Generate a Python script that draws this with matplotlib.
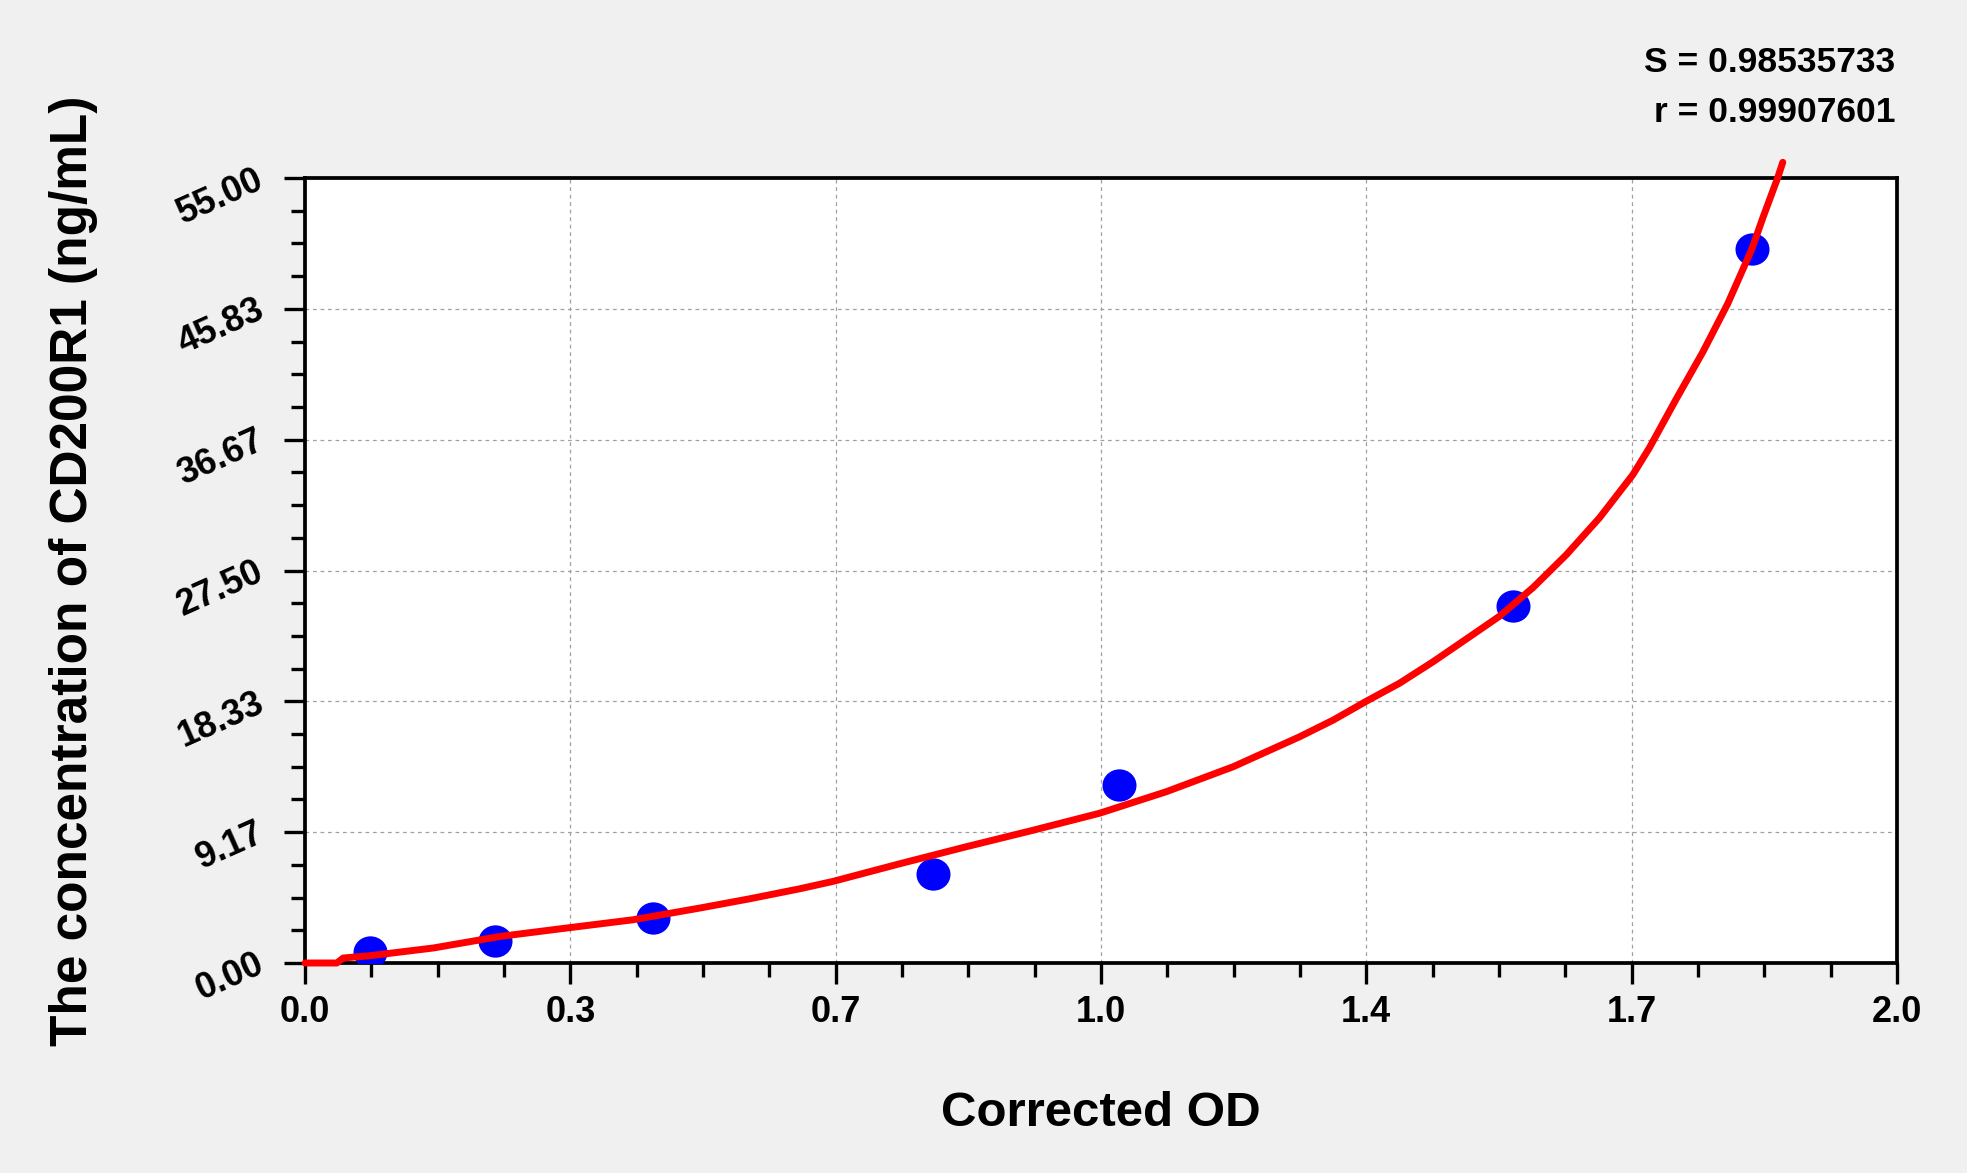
import matplotlib
matplotlib.use("Agg")
import matplotlib.pyplot as plt
from matplotlib.ticker import FixedLocator, AutoMinorLocator
from matplotlib.path import Path

# ---- data ----
od_values = [0.0815, 0.2385, 0.437, 0.789, 1.023, 1.517, 1.8175]
conc_values = [0.78, 1.56, 3.12, 6.25, 12.5, 25.0, 50.0]

curve_x = [0.0, 0.04, 0.048, 0.0816, 0.161, 0.245, 0.3286, 0.4123, 0.496, 0.5588,
           0.6216, 0.6635, 0.747, 0.831, 0.9146, 0.998, 1.082, 1.166, 1.2495, 1.2914,
           1.332, 1.375, 1.417, 1.459, 1.5007, 1.5427, 1.5845, 1.6264, 1.668, 1.689,
           1.7225, 1.756, 1.7874, 1.8175, 1.8314, 1.85, 1.8565]
curve_y = [0.0, 0.0, 0.35, 0.51, 1.05, 1.86, 2.45, 3.03, 3.85, 4.5,
           5.2, 5.72, 6.95, 8.15, 9.3, 10.49, 12.0, 13.75, 15.85, 17.01,
           18.3, 19.6, 21.1, 22.7, 24.3, 26.3, 28.6, 31.2, 34.2, 36.1,
           39.5, 42.8, 46.2, 50.0, 52.2, 55.0, 56.1]

x_ticks = [0.0, 1/3, 2/3, 1.0, 4/3, 5/3, 2.0]
x_tick_labels = ['0.0', '0.3', '0.7', '1.0', '1.4', '1.7', '2.0']
y_ticks = [0.0, 55/6, 110/6, 27.5, 220/6, 275/6, 55.0]
y_tick_labels = ['0.00', '9.17', '18.33', '27.50', '36.67', '45.83', '55.00']

s_text = 'S = 0.98535733'
r_text = 'r = 0.99907601'
x_label = 'Corrected OD'
y_label = 'The concentration of CD200R1 (ng/mL)'

# ---- figure ----
plt.rcParams['font.family'] = ['Liberation Sans', 'DejaVu Sans']
plt.rcParams['font.weight'] = 'bold'

W, H = 1967, 1173
fig = plt.figure(figsize=(W/100, H/100), dpi=100, facecolor='#f0f0f0')
L, R, T, B = 305, 1897, 178, 963
ax = fig.add_axes([L/W, 1 - B/H, (R-L)/W, (B-T)/H])
ax.set_facecolor('white')

ax.set_xlim(0, 2.0)
ax.set_ylim(0, 55.0)

ax.grid(True, which='major', color='#a0a0a0', linestyle=(0, (3, 3)), linewidth=0.9)
ax.set_axisbelow(True)

# slightly flattened dot, as in the reference
uc = Path.unit_circle()
dot = Path(uc.vertices * [1.0, 0.95], uc.codes)
ax.plot(od_values, conc_values, linestyle='none', marker=dot, markersize=24.5,
        markerfacecolor='#0000ff', markeredgewidth=0, zorder=3)
ax.plot(curve_x, curve_y, color='#ff0000', linewidth=5, zorder=4, clip_on=False,
        solid_capstyle='round', solid_joinstyle='round')

for sp in ax.spines.values():
    sp.set_linewidth(2.7)
    sp.set_color('black')

ax.xaxis.set_major_locator(FixedLocator(x_ticks))
ax.yaxis.set_major_locator(FixedLocator(y_ticks))
ax.set_xticklabels(x_tick_labels, fontsize=26, fontweight='bold')
ax.set_yticklabels(y_tick_labels, fontsize=26, fontweight='bold')
ax.xaxis.set_minor_locator(AutoMinorLocator(4))
ax.yaxis.set_minor_locator(AutoMinorLocator(4))

ax.tick_params(axis='both', which='major', direction='out', length=15, width=2.4,
               labelsize=26, color='black')
ax.tick_params(axis='both', which='minor', direction='out', length=10, width=2.4,
               color='black')
ax.tick_params(axis='x', which='major', pad=8)
ax.tick_params(axis='y', which='major', pad=16)
ax.tick_params(top=False, right=False, which='both')

for lab in ax.get_yticklabels():
    lab.set_rotation(24)
    lab.set_rotation_mode('anchor')
    lab.set_ha('right')
    lab.set_va('center')

ax.set_xlabel(x_label, fontsize=35.5, fontweight='bold', va='center')
ax.xaxis.set_label_coords(0.5, (B - 1113) / (B - T))
ax.set_ylabel(y_label, fontsize=37, fontweight='bold', va='center')
ax.yaxis.set_label_coords((73 - L) / (R - L), 0.5)

fig.text(1895/W, 1 - 63/H, s_text, ha='right', va='center', fontsize=25.5, fontweight='bold')
fig.text(1895/W, 1 - 112/H, r_text, ha='right', va='center', fontsize=25.5, fontweight='bold')

fig.savefig('out.png', dpi=100, facecolor=fig.get_facecolor())
